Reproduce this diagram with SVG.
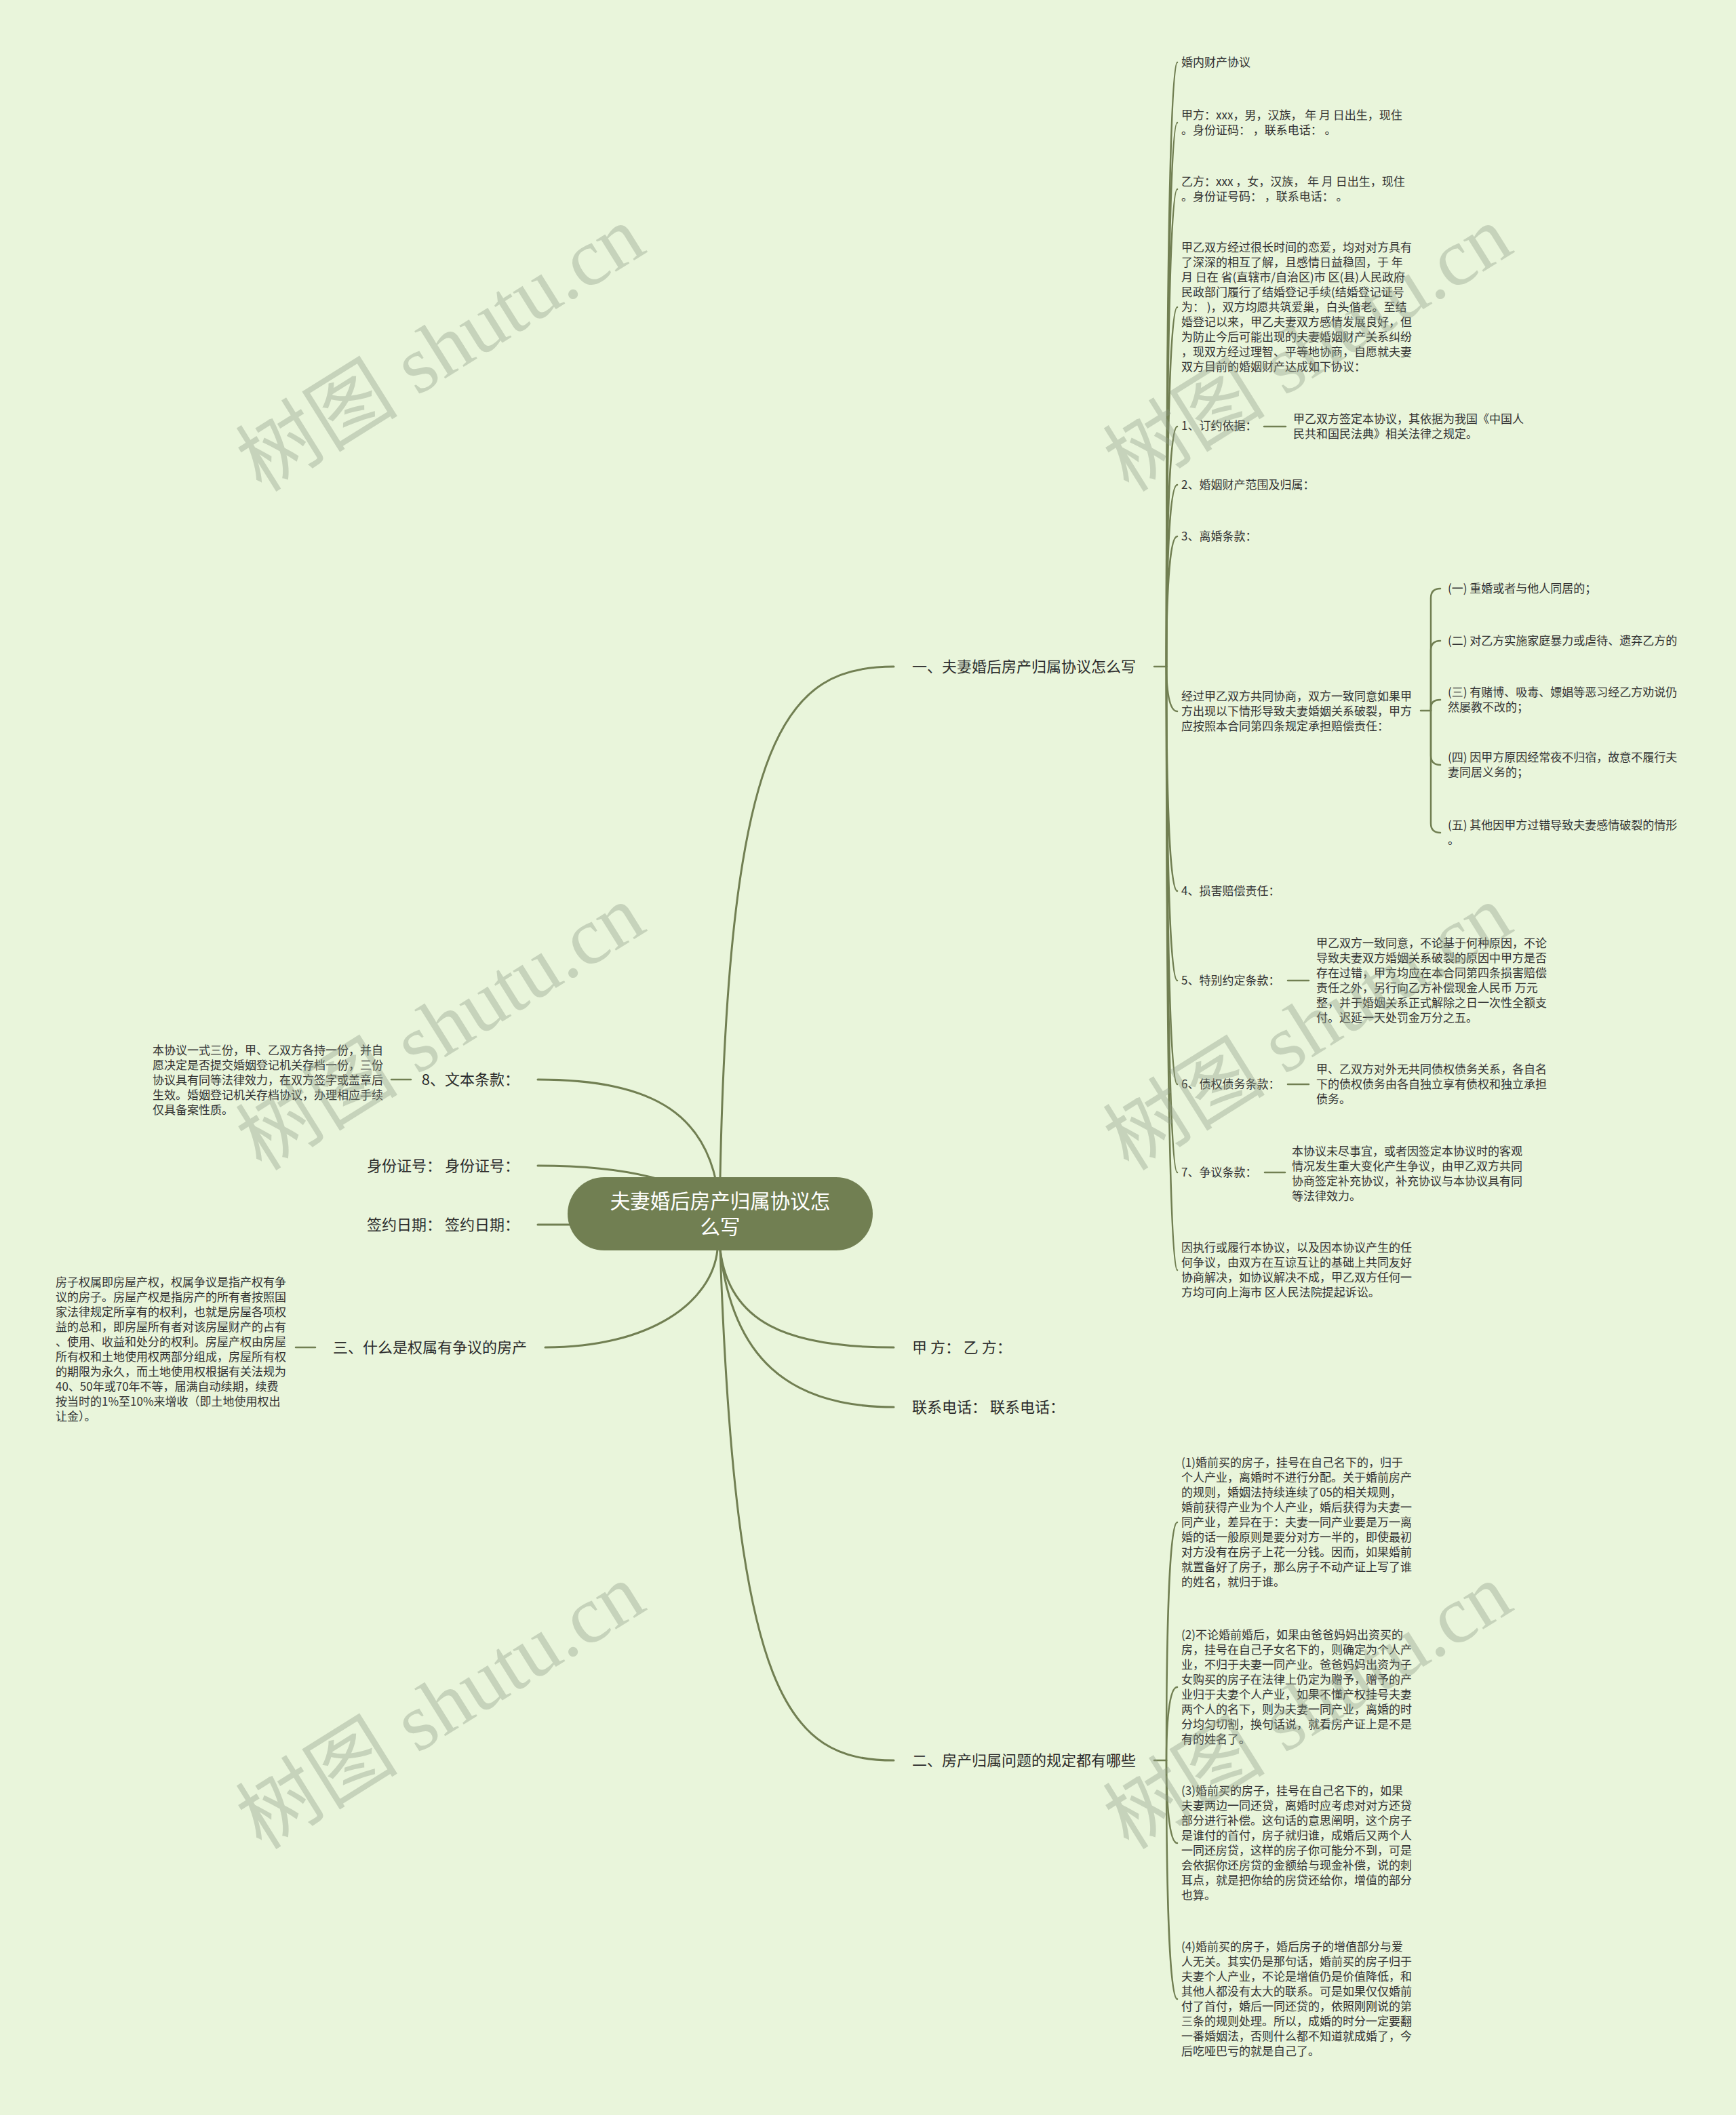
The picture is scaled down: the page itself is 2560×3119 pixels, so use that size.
<svg xmlns="http://www.w3.org/2000/svg" width="2560" height="3119" viewBox="0 0 2560 3119">
<style>
.conn path{fill:none;stroke:#717f52;stroke-width:3;stroke-linecap:round}
.conn .c2{stroke-width:2.5}
text{font-family:"Noto Sans CJK SC","Noto Sans",sans-serif}
.t1{font-size:22px;fill:#2c2c2c}
.t1e{font-size:22px;fill:#2c2c2c;text-anchor:end}
.t2{font-size:17px;fill:#333333}
.rt{font-size:29.5px;fill:#ffffff;text-anchor:middle}
.wm text{font-family:"Liberation Serif","Noto Sans CJK SC",serif;font-size:120px;fill:#8f9c85;fill-opacity:0.38;text-anchor:middle}
</style>
<rect x="0" y="0" width="2560" height="3119" fill="#e9f5db"/>

<g id="connectors" class="conn">
  <!-- root to level 1 -->
  <path d="M1062 1790 L1062 1736 C1075 1080 1160 983 1318 983"/>
  <path d="M1062 1790 L1062 1843 C1075 1950 1160 1987 1318 1987"/>
  <path d="M1062 1790 L1062 1843 C1080 2000 1160 2075 1318 2075"/>
  <path d="M1062 1790 L1062 1843 C1085 2500 1160 2596 1318 2596"/>
  <path d="M1062 1790 C1055 1640 960 1592 793 1592"/>
  <path d="M1062 1790 C1020 1740 920 1719 793 1719"/>
  <path d="M1062 1806 L793 1806"/>
  <path d="M804 1987 C960 1987 1050 1920 1058 1843 L1062 1790"/>
  <!-- level 1 stubs -->
  <path class="c2" d="M1702 983 H1720"/>
  <path class="c2" d="M1702 2596 H1720"/>
  <path class="c2" d="M577 1592 H606"/>
  <path class="c2" d="M436 1987 H465"/>
  <!-- section one children -->
  <path class="c2" d="M1720 983 C1720 537 1724 92 1736 92"/>
  <path class="c2" d="M1720 983 C1720 582 1724 181 1736 181"/>
  <path class="c2" d="M1720 983 C1720 631 1724 279 1736 279"/>
  <path class="c2" d="M1720 983 C1720 718 1724 453 1736 453"/>
  <path class="c2" d="M1720 983 C1720 806 1724 629 1736 629"/>
  <path class="c2" d="M1720 983 C1720 849 1724 715 1736 715"/>
  <path class="c2" d="M1720 983 C1720 887 1724 791 1736 791"/>
  <path class="c2" d="M1720 983 C1720 1016 1724 1049 1736 1049"/>
  <path class="c2" d="M1720 983 C1720 1148 1724 1314 1736 1314"/>
  <path class="c2" d="M1720 983 C1720 1214 1724 1446 1736 1446"/>
  <path class="c2" d="M1720 983 C1720 1291 1724 1599 1736 1599"/>
  <path class="c2" d="M1720 983 C1720 1356 1724 1729 1736 1729"/>
  <path class="c2" d="M1720 983 C1720 1428 1724 1873 1736 1873"/>
  <!-- label-to-child stubs -->
  <path class="c2" d="M1864 629 H1896"/>
  <path class="c2" d="M1899 1446 H1930"/>
  <path class="c2" d="M1899 1599 H1930"/>
  <path class="c2" d="M1865 1729 H1895"/>
  <!-- bracket for divorce clauses -->
  <path class="c2" d="M2095 1048 H2110"/>
  <path class="c2" d="M2110 1048 L2110 882 Q2110 868 2124 868"/>
  <path class="c2" d="M2110 1048 L2110 959 Q2110 945 2124 945"/>
  <path class="c2" d="M2110 1048 L2110 1044 Q2110 1032 2124 1032"/>
  <path class="c2" d="M2110 1048 L2110 1114 Q2110 1128 2124 1128"/>
  <path class="c2" d="M2110 1048 L2110 1214 Q2110 1228 2124 1228"/>
  <!-- section two children -->
  <path class="c2" d="M1720 2596 C1720 2420 1724 2245 1736 2245"/>
  <path class="c2" d="M1720 2596 C1720 2542 1724 2488 1736 2488"/>
  <path class="c2" d="M1720 2596 C1720 2657 1724 2718 1736 2718"/>
  <path class="c2" d="M1720 2596 C1720 2772 1724 2948 1736 2948"/>
</g>

<g id="root">
  <rect x="837" y="1736" width="450" height="108" rx="54" ry="54" fill="#717f52"/>
  <text class="rt" x="1062" y="1782">夫妻婚后房产归属协议怎</text>
  <text class="rt" x="1062" y="1820">么写</text>
</g>

<g id="n-section1"><text class="t1" x="1345" y="991">一、夫妻婚后房产归属协议怎么写</text></g>
<g id="n-jiafang"><text class="t1" x="1345" y="1995">甲 方： 乙 方：</text></g>
<g id="n-phone"><text class="t1" x="1345" y="2083">联系电话： 联系电话：</text></g>
<g id="n-section2"><text class="t1" x="1345" y="2604">二、房产归属问题的规定都有哪些</text></g>
<g id="n-clause8"><text class="t1e" x="766" y="1600">8、文本条款：</text></g>
<g id="n-idno"><text class="t1e" x="766" y="1727">身份证号： 身份证号：</text></g>
<g id="n-date"><text class="t1e" x="766" y="1814">签约日期： 签约日期：</text></g>
<g id="n-section3"><text class="t1e" x="777" y="1995">三、什么是权属有争议的房产</text></g>

<g id="n-title"><text class="t2" x="1742" y="98">婚内财产协议</text></g>
<g id="n-partyA" class="t2">
  <text x="1742" y="176">甲方：xxx，男，汉族， 年 月 日出生，现住</text>
  <text x="1742" y="198">。身份证码： ，联系电话： 。</text>
</g>
<g id="n-partyB" class="t2">
  <text x="1742" y="274">乙方：xxx ，女，汉族， 年 月 日出生，现住</text>
  <text x="1742" y="296">。身份证号码： ，联系电话： 。</text>
</g>
<g id="n-intro" class="t2">
  <text x="1742" y="371">甲乙双方经过很长时间的恋爱，均对对方具有</text>
  <text x="1742" y="393">了深深的相互了解，且感情日益稳固，于 年</text>
  <text x="1742" y="415">月 日在 省(直辖市/自治区)市 区(县)人民政府</text>
  <text x="1742" y="437">民政部门履行了结婚登记手续(结婚登记证号</text>
  <text x="1742" y="459">为： )，双方均愿共筑爱巢，白头偕老。至结</text>
  <text x="1742" y="481">婚登记以来，甲乙夫妻双方感情发展良好，但</text>
  <text x="1742" y="503">为防止今后可能出现的夫妻婚姻财产关系纠纷</text>
  <text x="1742" y="525">，现双方经过理智、平等地协商，自愿就夫妻</text>
  <text x="1742" y="547">双方目前的婚姻财产达成如下协议：</text>
</g>
<g id="n-c1"><text class="t2" x="1742" y="634">1、订约依据：</text></g>
<g id="n-c1-body" class="t2">
  <text x="1907" y="624">甲乙双方签定本协议，其依据为我国《中国人</text>
  <text x="1907" y="646">民共和国民法典》相关法律之规定。</text>
</g>
<g id="n-c2"><text class="t2" x="1742" y="721">2、婚姻财产范围及归属：</text></g>
<g id="n-c3"><text class="t2" x="1742" y="797">3、离婚条款：</text></g>
<g id="n-c3-body" class="t2">
  <text x="1742" y="1033">经过甲乙双方共同协商，双方一致同意如果甲</text>
  <text x="1742" y="1055">方出现以下情形导致夫妻婚姻关系破裂，甲方</text>
  <text x="1742" y="1077">应按照本合同第四条规定承担赔偿责任：</text>
</g>
<g id="n-d1"><text class="t2" x="2135" y="874">(一) 重婚或者与他人同居的；</text></g>
<g id="n-d2"><text class="t2" x="2135" y="951">(二) 对乙方实施家庭暴力或虐待、遗弃乙方的</text></g>
<g id="n-d3" class="t2">
  <text x="2135" y="1027">(三) 有赌博、吸毒、嫖娼等恶习经乙方劝说仍</text>
  <text x="2135" y="1049">然屡教不改的；</text>
</g>
<g id="n-d4" class="t2">
  <text x="2135" y="1123">(四) 因甲方原因经常夜不归宿，故意不履行夫</text>
  <text x="2135" y="1145">妻同居义务的；</text>
</g>
<g id="n-d5" class="t2">
  <text x="2135" y="1223">(五) 其他因甲方过错导致夫妻感情破裂的情形</text>
  <text x="2135" y="1245">。</text>
</g>
<g id="n-c4"><text class="t2" x="1742" y="1320">4、损害赔偿责任：</text></g>
<g id="n-c5"><text class="t2" x="1742" y="1452">5、特别约定条款：</text></g>
<g id="n-c5-body" class="t2">
  <text x="1941" y="1397">甲乙双方一致同意，不论基于何种原因，不论</text>
  <text x="1941" y="1419">导致夫妻双方婚姻关系破裂的原因中甲方是否</text>
  <text x="1941" y="1441">存在过错，甲方均应在本合同第四条损害赔偿</text>
  <text x="1941" y="1463">责任之外，另行向乙方补偿现金人民币 万元</text>
  <text x="1941" y="1485">整，并于婚姻关系正式解除之日一次性全额支</text>
  <text x="1941" y="1507">付。迟延一天处罚金万分之五。</text>
</g>
<g id="n-c6"><text class="t2" x="1742" y="1605">6、债权债务条款：</text></g>
<g id="n-c6-body" class="t2">
  <text x="1941" y="1583">甲、乙双方对外无共同债权债务关系，各自名</text>
  <text x="1941" y="1605">下的债权债务由各自独立享有债权和独立承担</text>
  <text x="1941" y="1627">债务。</text>
</g>
<g id="n-c7"><text class="t2" x="1742" y="1735">7、争议条款：</text></g>
<g id="n-c7-body" class="t2">
  <text x="1905" y="1704">本协议未尽事宜，或者因签定本协议时的客观</text>
  <text x="1905" y="1726">情况发生重大变化产生争议，由甲乙双方共同</text>
  <text x="1905" y="1748">协商签定补充协议，补充协议与本协议具有同</text>
  <text x="1905" y="1770">等法律效力。</text>
</g>
<g id="n-dispute" class="t2">
  <text x="1742" y="1846">因执行或履行本协议，以及因本协议产生的任</text>
  <text x="1742" y="1868">何争议，由双方在互谅互让的基础上共同友好</text>
  <text x="1742" y="1890">协商解决，如协议解决不成，甲乙双方任何一</text>
  <text x="1742" y="1912">方均可向上海市 区人民法院提起诉讼。</text>
</g>

<g id="n-r1" class="t2">
  <text x="1742" y="2163">(1)婚前买的房子，挂号在自己名下的，归于</text>
  <text x="1742" y="2185">个人产业，离婚时不进行分配。关于婚前房产</text>
  <text x="1742" y="2207">的规则，婚姻法持续连续了05的相关规则，</text>
  <text x="1742" y="2229">婚前获得产业为个人产业，婚后获得为夫妻一</text>
  <text x="1742" y="2251">同产业，差异在于：夫妻一同产业要是万一离</text>
  <text x="1742" y="2273">婚的话一般原则是要分对方一半的，即使最初</text>
  <text x="1742" y="2295">对方没有在房子上花一分钱。因而，如果婚前</text>
  <text x="1742" y="2317">就置备好了房子，那么房子不动产证上写了谁</text>
  <text x="1742" y="2339">的姓名，就归于谁。</text>
</g>
<g id="n-r2" class="t2">
  <text x="1742" y="2417">(2)不论婚前婚后，如果由爸爸妈妈出资买的</text>
  <text x="1742" y="2439">房，挂号在自己子女名下的，则确定为个人产</text>
  <text x="1742" y="2461">业，不归于夫妻一同产业。爸爸妈妈出资为子</text>
  <text x="1742" y="2483">女购买的房子在法律上仍定为赠予，赠予的产</text>
  <text x="1742" y="2505">业归于夫妻个人产业，如果不懂产权挂号夫妻</text>
  <text x="1742" y="2527">两个人的名下，则为夫妻一同产业，离婚的时</text>
  <text x="1742" y="2549">分均匀切割，换句话说，就看房产证上是不是</text>
  <text x="1742" y="2571">有的姓名了。</text>
</g>
<g id="n-r3" class="t2">
  <text x="1742" y="2647">(3)婚前买的房子，挂号在自己名下的，如果</text>
  <text x="1742" y="2669">夫妻两边一同还贷，离婚时应考虑对对方还贷</text>
  <text x="1742" y="2691">部分进行补偿。这句话的意思阐明，这个房子</text>
  <text x="1742" y="2713">是谁付的首付，房子就归谁，成婚后又两个人</text>
  <text x="1742" y="2735">一同还房贷，这样的房子你可能分不到，可是</text>
  <text x="1742" y="2757">会依据你还房贷的金额给与现金补偿，说的刺</text>
  <text x="1742" y="2779">耳点，就是把你给的房贷还给你，增值的部分</text>
  <text x="1742" y="2801">也算。</text>
</g>
<g id="n-r4" class="t2">
  <text x="1742" y="2877">(4)婚前买的房子，婚后房子的增值部分与爱</text>
  <text x="1742" y="2899">人无关。其实仍是那句话，婚前买的房子归于</text>
  <text x="1742" y="2921">夫妻个人产业，不论是增值仍是价值降低，和</text>
  <text x="1742" y="2943">其他人都没有太大的联系。可是如果仅仅婚前</text>
  <text x="1742" y="2965">付了首付，婚后一同还贷的，依照刚刚说的第</text>
  <text x="1742" y="2987">三条的规则处理。所以，成婚的时分一定要翻</text>
  <text x="1742" y="3009">一番婚姻法，否则什么都不知道就成婚了，今</text>
  <text x="1742" y="3031">后吃哑巴亏的就是自己了。</text>
</g>

<g id="n-clause8-body" class="t2">
  <text x="225" y="1555">本协议一式三份，甲、乙双方各持一份，并自</text>
  <text x="225" y="1577">愿决定是否提交婚姻登记机关存档一份，三份</text>
  <text x="225" y="1599">协议具有同等法律效力，在双方签字或盖章后</text>
  <text x="225" y="1621">生效。婚姻登记机关存档协议，办理相应手续</text>
  <text x="225" y="1643">仅具备案性质。</text>
</g>
<g id="n-section3-body" class="t2">
  <text x="82" y="1897">房子权属即房屋产权，权属争议是指产权有争</text>
  <text x="82" y="1919">议的房子。房屋产权是指房产的所有者按照国</text>
  <text x="82" y="1941">家法律规定所享有的权利，也就是房屋各项权</text>
  <text x="82" y="1963">益的总和，即房屋所有者对该房屋财产的占有</text>
  <text x="82" y="1985">、使用、收益和处分的权利。房屋产权由房屋</text>
  <text x="82" y="2007">所有权和土地使用权两部分组成，房屋所有权</text>
  <text x="82" y="2029">的期限为永久，而土地使用权根据有关法规为</text>
  <text x="82" y="2051">40、50年或70年不等，届满自动续期，续费</text>
  <text x="82" y="2073">按当时的1%至10%来增收（即土地使用权出</text>
  <text x="82" y="2095">让金）。</text>
</g>

<g id="watermarks" class="wm">
  <text x="650" y="555" transform="rotate(-32 650 515)">树图 shutu.cn</text>
  <text x="1929" y="555" transform="rotate(-32 1929 515)">树图 shutu.cn</text>
  <text x="650" y="1556" transform="rotate(-32 650 1516)">树图 shutu.cn</text>
  <text x="1929" y="1556" transform="rotate(-32 1929 1516)">树图 shutu.cn</text>
  <text x="650" y="2557" transform="rotate(-32 650 2517)">树图 shutu.cn</text>
  <text x="1929" y="2557" transform="rotate(-32 1929 2517)">树图 shutu.cn</text>
</g>
</svg>
